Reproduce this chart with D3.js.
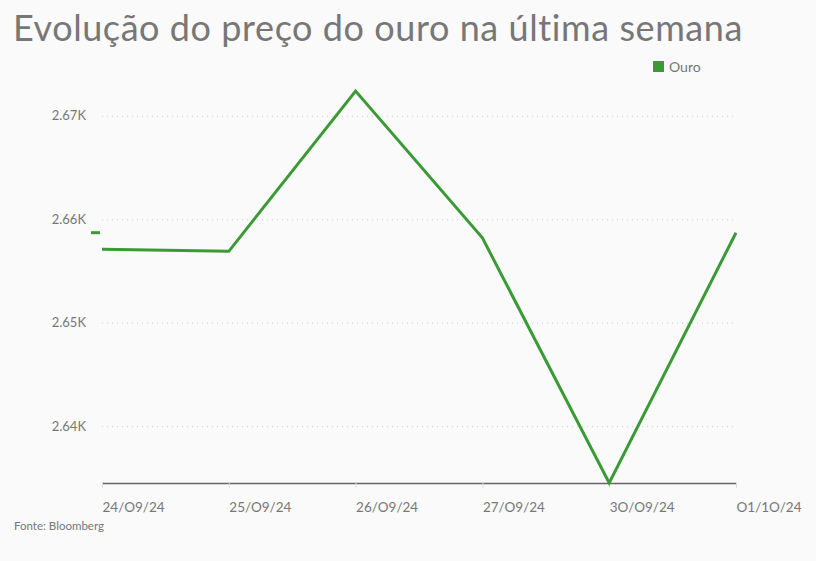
<!DOCTYPE html>
<html><head><meta charset="utf-8">
<script src="https://cdn.jsdelivr.net/npm/d3@7"></script>
<style>
html,body{margin:0;padding:0;background:#fafafa;}
svg{display:block;font-family:Lato,"Open Sans",sans-serif;}
</style></head>
<body><svg id="c" width="816" height="561"></svg>
<script>
const dates = ["24/O9/24","25/O9/24","26/O9/24","27/O9/24","3O/O9/24","O1/1O/24"];
const ouro = [2657.1, 2656.9, 2672.4, 2658.2, 2634.5, 2658.7];
const yTicks = [2640, 2650, 2660, 2670];
const yTickLabels = ["2.64K","2.65K","2.66K","2.67K"];
const seriesName = "Ouro";
const titleText = "Evolução do preço do ouro na última semana";
const sourceText = "Fonte: Bloomberg";

const svg = d3.select("#c");
const green = "#3a9a35";
const grey = "#777";
const m = {left:102, right:736, top:91, bottom:483};

const x = d3.scalePoint().domain(dates).range([m.left, m.right]);
const y = d3.scaleLinear().domain([d3.min(ouro), d3.max(ouro)]).range([m.bottom, m.top]);

svg.append("text").attr("x",13).attr("y",41).attr("font-size",36).attr("fill",grey)
  .attr("letter-spacing",0.57).text(titleText);

// legend
svg.append("rect").attr("x",653).attr("y",61).attr("width",11).attr("height",11).attr("fill",green);
svg.append("text").attr("x",669).attr("y",72).attr("font-size",14).attr("fill",grey).text(seriesName);

// grid
const yAxis = d3.axisLeft(y).tickValues(yTicks).tickSize(-(m.right-m.left)).tickPadding(16)
  .tickFormat((d,i)=>yTickLabels[i]);
const gy = svg.append("g").attr("transform",`translate(${m.left},0)`).call(yAxis);
gy.select(".domain").remove();
gy.selectAll(".tick line").attr("stroke","#ccc").attr("stroke-dasharray","1,4");
gy.selectAll(".tick text").attr("font-size",13).attr("fill",grey).attr("font-family","Lato,sans-serif");

// x axis
const xAxis = d3.axisBottom(x).tickSize(5).tickSizeOuter(0).tickPadding(14);
const gx = svg.append("g").attr("transform",`translate(0,${m.bottom})`).call(xAxis);
gx.select(".domain").attr("stroke","#666").attr("stroke-width",1.5);
gx.selectAll(".tick line").attr("stroke","#ddd");
gx.selectAll(".tick text").attr("font-size",13.5).attr("fill",grey).attr("text-anchor","start")
  .attr("font-family","Lato,sans-serif");

// line
const line = d3.line().x((d,i)=>x(dates[i])).y(d=>y(d));
svg.append("path").datum(ouro).attr("d",line).attr("fill","none")
  .attr("stroke",green).attr("stroke-width",3).attr("stroke-linejoin","miter");

// last value marker
const last = ouro[ouro.length-1];
svg.append("line").attr("x1",m.left-11).attr("x2",m.left-2).attr("y1",y(last)).attr("y2",y(last))
  .attr("stroke",green).attr("stroke-width",3);

svg.append("text").attr("x",14).attr("y",530).attr("font-size",11.5).attr("fill",grey).text(sourceText);
</script></body></html>
